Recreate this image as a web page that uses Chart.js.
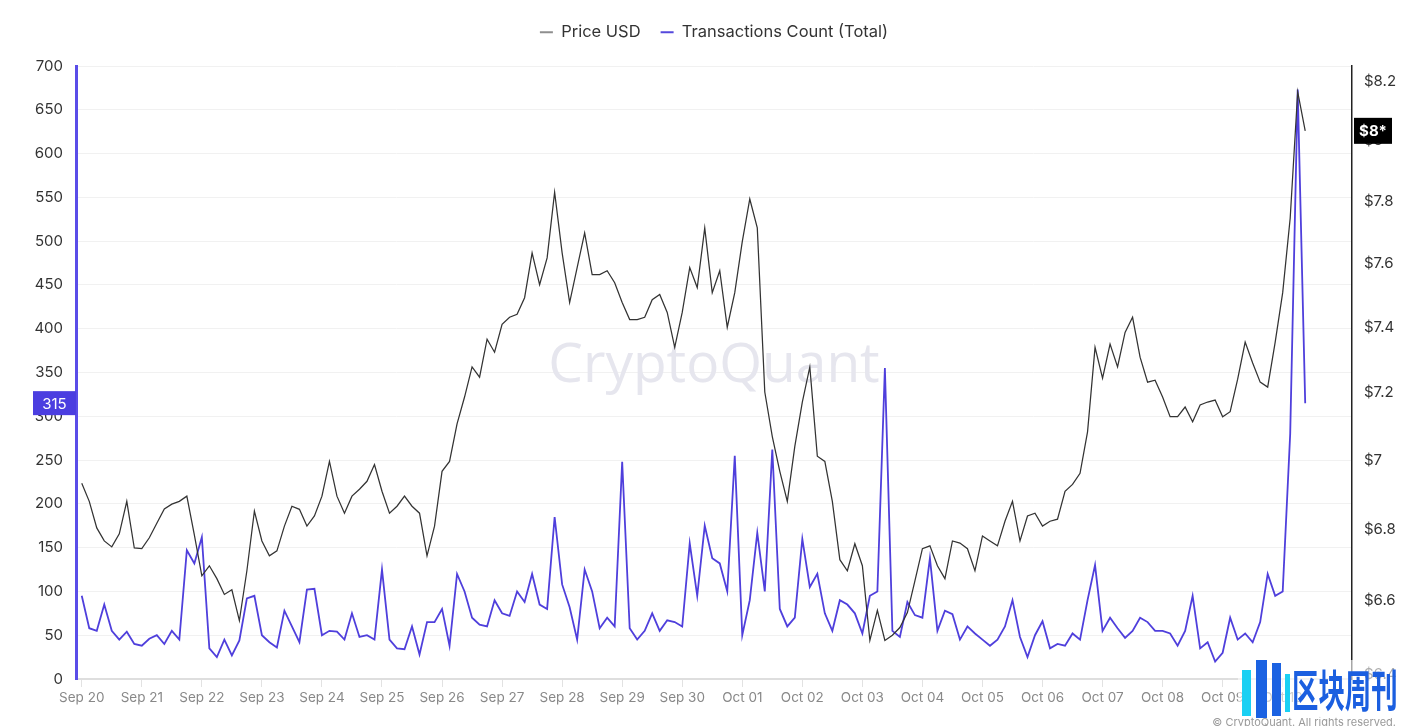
<!DOCTYPE html>
<html>
<head>
<meta charset="utf-8">
<script src="https://cdn.jsdelivr.net/npm/chart.js@4.4.1/dist/chart.umd.min.js"></script>
<style>
  html, body { margin: 0; padding: 0; background: #fff; }
  #wrap { width: 1408px; height: 726px; position: relative; }
</style>
</head>
<body>
<div id="wrap"><canvas id="txChart" width="1408" height="726"></canvas></div>
<script>
// day labels on the x axis (one tick per day)
const dayLabels = [
  "Sep 20", "Sep 21", "Sep 22", "Sep 23", "Sep 24", "Sep 25", "Sep 26", "Sep 27",
  "Sep 28", "Sep 29", "Sep 30", "Oct 01", "Oct 02", "Oct 03", "Oct 04", "Oct 05",
  "Oct 06", "Oct 07", "Oct 08", "Oct 09", "Oct 10"
];

// one sample every 3 hours, starting Sep 20 00:00
const stepHours = 3;

const priceUsd = [
  6.932, 6.880, 6.804, 6.767, 6.750, 6.787, 6.880, 6.747,
  6.745, 6.776, 6.817, 6.858, 6.872, 6.880, 6.895, 6.784,
  6.669, 6.697, 6.661, 6.617, 6.630, 6.545, 6.683, 6.852,
  6.767, 6.725, 6.739, 6.809, 6.866, 6.857, 6.809, 6.838,
  6.895, 6.996, 6.895, 6.846, 6.895, 6.915, 6.938, 6.987,
  6.909, 6.846, 6.866, 6.895, 6.866, 6.846, 6.725, 6.809,
  6.967, 6.996, 7.107, 7.187, 7.278, 7.247, 7.363, 7.323,
  7.409, 7.431, 7.440, 7.492, 7.634, 7.533, 7.618, 7.830,
  7.634, 7.477, 7.587, 7.698, 7.565, 7.565, 7.577, 7.539,
  7.477, 7.424, 7.424, 7.431, 7.486, 7.502, 7.446, 7.338,
  7.446, 7.587, 7.524, 7.714, 7.508, 7.577, 7.400, 7.508,
  7.670, 7.808, 7.714, 7.202, 7.069, 6.967, 6.880, 7.040,
  7.172, 7.278, 7.011, 6.996, 6.880, 6.714, 6.683, 6.759,
  6.697, 6.491, 6.573, 6.491, 6.505, 6.526, 6.567, 6.655,
  6.745, 6.753, 6.697, 6.661, 6.767, 6.761, 6.745, 6.683,
  6.781, 6.767, 6.753, 6.823, 6.880, 6.767, 6.838, 6.846,
  6.809, 6.823, 6.829, 6.909, 6.929, 6.961, 7.083, 7.338,
  7.244, 7.348, 7.278, 7.384, 7.431, 7.308, 7.232, 7.238,
  7.187, 7.128, 7.128, 7.157, 7.113, 7.163, 7.172, 7.178,
  7.128, 7.143, 7.241, 7.354, 7.290, 7.232, 7.217, 7.354,
  7.508, 7.746, 8.166, 8.034
];

const txCount = [
  95, 58, 55, 85, 55, 45, 54, 40,
  38, 46, 50, 40, 55, 45, 147, 132,
  162, 35, 25, 45, 27, 44, 92, 95,
  50, 42, 36, 78, 60, 42, 102, 103,
  50, 55, 54, 45, 75, 48, 50, 45,
  125, 45, 35, 34, 60, 28, 65, 65,
  80, 38, 120, 100, 70, 62, 60, 90,
  75, 72, 100, 88, 120, 85, 80, 185,
  108, 82, 45, 125, 100, 58, 70, 60,
  248, 58, 45, 55, 75, 55, 67, 65,
  60, 155, 95, 175, 138, 132, 100, 255,
  50, 90, 167, 100, 262, 80, 60, 70,
  160, 105, 120, 75, 55, 90, 85, 75,
  52, 95, 100, 355, 55, 48, 88, 73,
  70, 138, 55, 78, 74, 45, 60, 52,
  45, 38, 45, 60, 90, 48, 25, 50,
  66, 35, 40, 38, 52, 45, 90, 130,
  55, 70, 58, 47, 55, 70, 65, 55,
  55, 52, 38, 55, 95, 35, 42, 20,
  30, 70, 45, 52, 42, 65, 120, 95,
  100, 280, 673, 315
];

const priceTicks = [6.4, 6.6, 6.8, 7, 7.2, 7.4, 7.6, 7.8, 8, 8.2];
const legendColors = ["#8e8e8e", "#5548dc"];

const toPoints = (arr) => arr.map((v, i) => ({ x: i * stepHours, y: v }));

Chart.defaults.font.family = "Inter, 'Liberation Sans', Arial, sans-serif";
Chart.defaults.color = "#333";

// watermark, last-value badges and the footer bits
const overlay = {
  id: "overlay",
  beforeLayout(chart) {
    const lg = chart.legend;
    if (lg && !lg._fixed) {
      const fit = lg.fit.bind(lg);
      lg.fit = function () {
        fit();
        this.height = 62;
      };
      // the legend sits a little right of centre in the original
      const draw = lg.draw.bind(lg);
      lg.draw = function () {
        this.ctx.save();
        this.ctx.translate(10, 0);
        draw();
        this.ctx.restore();
      };
      lg._fixed = true;
    }
  },
  beforeDatasetsDraw(chart) {
    const ctx = chart.ctx;
    ctx.save();
    ctx.font = "500 55px 'Open Sans', Inter, sans-serif";
    ctx.fillStyle = "#e6e6ee";
    ctx.textAlign = "center";
    ctx.textBaseline = "middle";
    ctx.fillText("CryptoQuant", 714, 366);
    ctx.restore();
  },
  afterDraw(chart) {
    const ctx = chart.ctx;
    const area = chart.chartArea;
    const lastTx = txCount[txCount.length - 1];
    const lastPrice = priceUsd[priceUsd.length - 1];

    ctx.save();
    // left badge (transactions)
    const yTx = chart.scales.y.getPixelForValue(lastTx);
    ctx.fillStyle = "#4b3ee0";
    ctx.fillRect(33, yTx - 12, area.left - 33, 24);
    ctx.fillStyle = "#fff";
    ctx.font = "15px Inter, sans-serif";
    ctx.textAlign = "center";
    ctx.textBaseline = "middle";
    ctx.fillText(String(lastTx), (33 + area.left) / 2, yTx + 1);

    // right badge (price)
    const yP = chart.scales.y1.getPixelForValue(lastPrice);
    ctx.fillStyle = "#000";
    ctx.fillRect(area.right + 2, yP - 13, 38, 26);
    ctx.fillStyle = "#fff";
    ctx.font = "bold 15px Inter, sans-serif";
    ctx.fillText("$" + Math.round(lastPrice) + "*", area.right + 21, yP + 1);

    // copyright line
    ctx.fillStyle = "#999";
    ctx.font = "11px Inter, sans-serif";
    ctx.textAlign = "right";
    ctx.textBaseline = "top";
    ctx.fillText("\u00a9 CryptoQuant. All rights reserved.", 1396, 717);

    // site logo
    ctx.fillStyle = "rgba(255,255,255,0.6)";
    ctx.fillRect(1238, 660, 158, 58);
    ctx.fillStyle = "#1ad0f3";
    ctx.fillRect(1242, 670, 9, 46);
    ctx.fillStyle = "#1b62e2";
    ctx.fillRect(1256, 660, 11, 58);
    ctx.fillRect(1272, 663, 9, 53);
    ctx.fillStyle = "#1ad0f3";
    ctx.fillRect(1285, 674, 5, 38);
    ctx.fillStyle = "#1b5fe0";
    ctx.font = "bold 44px 'Noto Sans CJK SC', sans-serif";
    ctx.textAlign = "left";
    ctx.textBaseline = "middle";
    ctx.translate(1292, 690);
    ctx.scale(0.6, 1);
    ctx.fillText("区块周刊", 0, 0);
    ctx.restore();
  }
};

new Chart(document.getElementById("txChart"), {
  type: "line",
  data: {
    datasets: [
      {
        label: "Price USD",
        data: toPoints(priceUsd),
        yAxisID: "y1",
        borderColor: "#333333",
        backgroundColor: "#8e8e8e",
        borderWidth: 1.25,
        pointRadius: 0,
        tension: 0
      },
      {
        label: "Transactions Count (Total)",
        data: toPoints(txCount),
        yAxisID: "y",
        borderColor: "#4f3fdc",
        backgroundColor: "#5548dc",
        borderWidth: 1.8,
        pointRadius: 0,
        tension: 0
      }
    ]
  },
  options: {
    responsive: false,
    animation: false,
    devicePixelRatio: 1,
    layout: { padding: { top: 4, left: 0, right: 0, bottom: 0 } },
    plugins: {
      legend: {
        display: true,
        position: "top",
        labels: {
          boxWidth: 13,
          boxHeight: 2,
          padding: 20,
          color: "#333",
          font: { size: 16.5 },
          generateLabels: (chart) =>
            Chart.defaults.plugins.legend.labels.generateLabels(chart).map((l, i) => ({
              ...l,
              fillStyle: legendColors[i],
              strokeStyle: legendColors[i],
              lineWidth: 0
            }))
        }
      },
      tooltip: { enabled: false }
    },
    scales: {
      x: {
        type: "linear",
        min: -2.3,
        max: 507.7,
        afterBuildTicks: (axis) => {
          axis.ticks = dayLabels.map((d, i) => ({ value: i * 24 }));
        },
        afterFit: (axis) => { axis.height = 47; },
        ticks: {
          autoSkip: false,
          maxRotation: 0,
          padding: 3,
          color: "#888",
          font: { size: 13.5 },
          callback: (v) => dayLabels[Math.round(v / 24)]
        },
        grid: { drawOnChartArea: false, drawTicks: true, tickLength: 8, color: "#e2e2e2" },
        border: { color: "#dedede", width: 2 }
      },
      y: {
        type: "linear",
        position: "left",
        min: 0,
        max: 700,
        afterFit: (axis) => { axis.width = 76; },
        ticks: { stepSize: 50, padding: 13, color: "#333", font: { size: 15 } },
        grid: { color: "#f1f1f1", drawTicks: false },
        border: { color: "#5a4de8", width: 3 }
      },
      y1: {
        type: "logarithmic",
        position: "right",
        min: 6.387,
        max: 8.255,
        afterBuildTicks: (axis) => {
          axis.ticks = priceTicks.map((v) => ({ value: v }));
        },
        afterFit: (axis) => { axis.width = 56; },
        ticks: {
          autoSkip: false,
          padding: 12,
          color: "#333",
          font: { size: 15 },
          callback: (v) => "$" + parseFloat(Number(v).toFixed(1))
        },
        grid: { drawOnChartArea: false, drawTicks: false },
        border: { color: "#222", width: 1.5 }
      }
    }
  },
  plugins: [overlay]
});
</script>
</body>
</html>
